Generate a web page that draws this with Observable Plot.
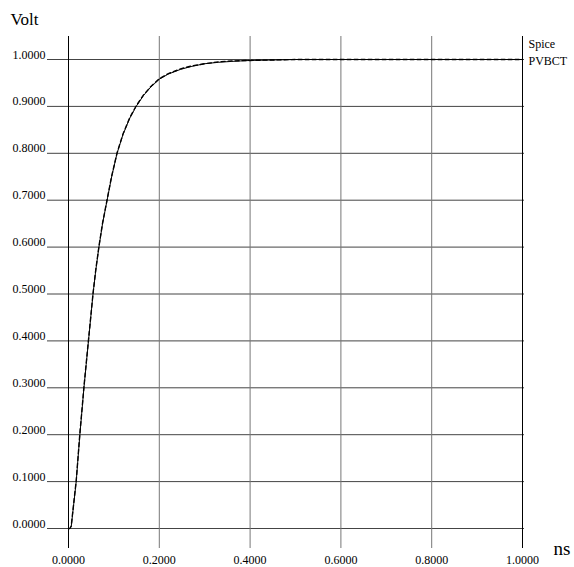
<!DOCTYPE html>
<html>
<head>
<meta charset="utf-8">
<script src="https://cdn.jsdelivr.net/npm/d3@7"></script>
<script src="https://cdn.jsdelivr.net/npm/@observablehq/plot@0.6"></script>
<style>
  html, body { margin: 0; padding: 0; background: #fff; }
  #chart svg { display: block; }
</style>
</head>
<body>
<div id="chart"></div>
<script>
// ---- data ----
const xTicks = [0, 0.2, 0.4, 0.6, 0.8, 1.0];
const yTicks = [0, 0.1, 0.2, 0.3, 0.4, 0.5, 0.6, 0.7, 0.8, 0.9, 1.0];

const spiceT = [0, 0.003, 0.006, 0.009, 0.013, 0.017, 0.021, 0.025, 0.03, 0.034, 0.039, 0.044, 0.049, 0.054, 0.06, 0.067, 0.075, 0.085, 0.095, 0.107, 0.12, 0.135, 0.149, 0.165, 0.18, 0.2, 0.22, 0.247, 0.27, 0.3, 0.33, 0.36, 0.4, 0.45, 0.5, 0.6, 0.7, 0.8, 0.9, 1.0];
const spiceV = [0, 0, 0.004, 0.03, 0.065, 0.1, 0.15, 0.2, 0.255, 0.3, 0.35, 0.4, 0.45, 0.5, 0.55, 0.6, 0.65, 0.7, 0.75, 0.8, 0.84, 0.875, 0.9, 0.923, 0.94, 0.958, 0.969, 0.979, 0.985, 0.991, 0.994, 0.996, 0.998, 0.999, 1.0, 1.0, 1.0, 1.0, 1.0, 1.0];

const pvbctT = [0, 0.003, 0.006, 0.009, 0.013, 0.017, 0.021, 0.025, 0.03, 0.034, 0.039, 0.044, 0.049, 0.054, 0.06, 0.067, 0.075, 0.085, 0.095, 0.107, 0.12, 0.135, 0.149, 0.165, 0.18, 0.2, 0.22, 0.247, 0.27, 0.3, 0.33, 0.36, 0.4, 0.45, 0.5, 0.6, 0.7, 0.8, 0.9, 1.0];
const pvbctV = [0, 0, 0.005, 0.032, 0.067, 0.102, 0.152, 0.202, 0.257, 0.302, 0.352, 0.402, 0.451, 0.501, 0.551, 0.601, 0.651, 0.701, 0.751, 0.801, 0.841, 0.876, 0.901, 0.924, 0.941, 0.959, 0.97, 0.98, 0.986, 0.991, 0.995, 0.997, 0.998, 0.999, 1.0, 1.0, 1.0, 1.0, 1.0, 1.0];

const seriesNames = ["Spice", "PVBCT"];
const xUnit = "ns";
const yUnit = "Volt";

// ---- build tables ----
const spice = spiceT.map((t, i) => ({t, v: spiceV[i]}));
const pvbct = pvbctT.map((t, i) => ({t, v: pvbctV[i]}));
const fmt = d3.format(".4f");
const font = "Liberation Serif, Times New Roman, serif";

const chart = Plot.plot({
  width: 574,
  height: 567,
  marginLeft: 47,
  marginRight: 50,
  marginTop: 36,
  marginBottom: 19,
  x: {domain: [-21 / 454, 1 + 2 / 454], axis: null},
  y: {domain: [-20 / 469, 1 + 23 / 469], axis: null},
  style: {fontFamily: font, background: "#fff", overflow: "visible"},
  marks: [
    // horizontal grid
    Plot.ruleY(yTicks, {y: d => d, stroke: "#444", strokeWidth: 1}),
    // vertical grid
    Plot.ruleX(xTicks, {x: d => d, stroke: d => (d === 0 || d === 1) ? "#000" : "#777", strokeWidth: 1}),
    // curves
    Plot.line(spice, {x: "t", y: "v", stroke: "#000", strokeWidth: 1}),
    Plot.line(pvbct, {x: "t", y: "v", stroke: "#000", strokeWidth: 1.4, strokeDasharray: "4,3"}),
    // y tick labels
    Plot.text(yTicks, {y: d => d, frameAnchor: "left", text: d => fmt(d), textAnchor: "end", lineAnchor: "bottom", dx: -2, dy: -1, fontSize: 12, fill: "#000"}),
    // x tick labels
    Plot.text(xTicks, {x: d => d, frameAnchor: "bottom", text: d => fmt(d), textAnchor: "middle", lineAnchor: "bottom", dy: 15, fontSize: 12, fill: "#000"}),
    // axis units
    Plot.text([yUnit], {frameAnchor: "top-left", text: d => d, textAnchor: "start", lineAnchor: "bottom", dx: -37, dy: -12, fontSize: 17, fill: "#000"}),
    Plot.text([xUnit], {frameAnchor: "bottom-right", text: d => d, textAnchor: "start", lineAnchor: "bottom", dx: 29, dy: 6, fontSize: 19, fill: "#000"}),
    // series labels
    Plot.text([seriesNames[0]], {x: () => 1, y: () => 1, text: d => d, textAnchor: "start", lineAnchor: "bottom", dx: 6, dy: -12, fontSize: 12, fill: "#000"}),
    Plot.text([seriesNames[1]], {x: () => 1, y: () => 1, text: d => d, textAnchor: "start", lineAnchor: "bottom", dx: 6, dy: 5, fontSize: 12, fill: "#000"})
  ]
});
document.getElementById("chart").appendChild(chart);
</script>
</body>
</html>
